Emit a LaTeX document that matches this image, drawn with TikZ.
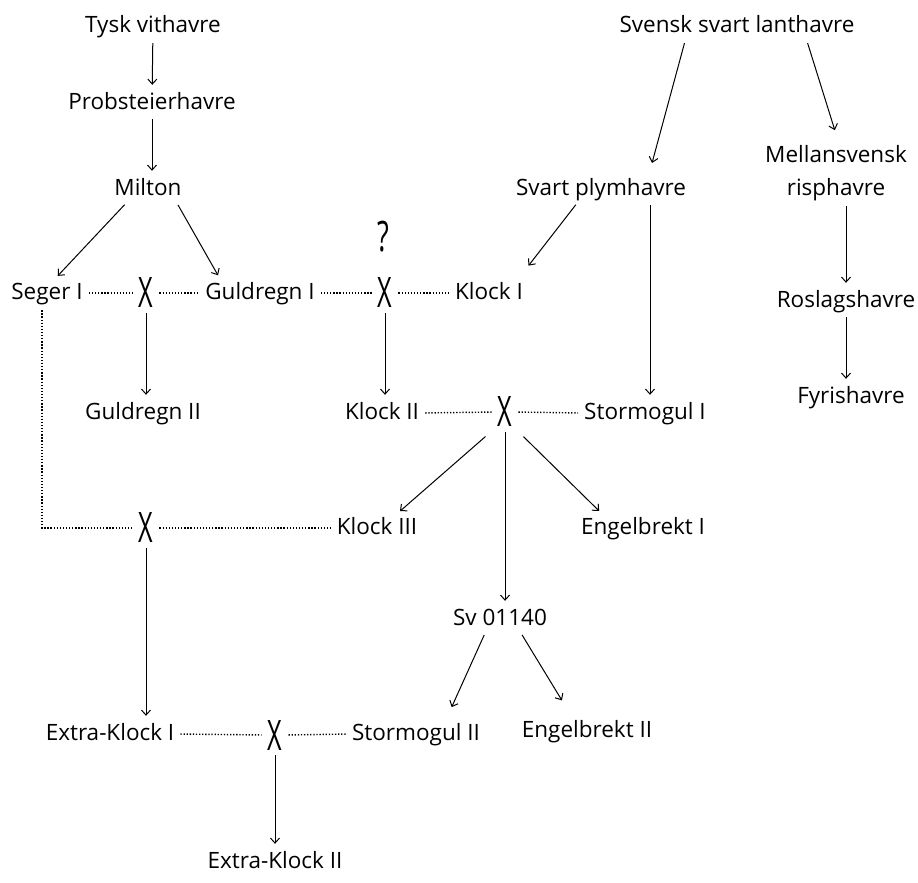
\documentclass[tikz,border=0pt]{standalone}
\usepackage{fontspec}
\usepackage{graphicx}
\setmainfont{Open Sans}
\usetikzlibrary{arrows.meta}
\newcommand{\kors}{\scalebox{0.6}[1]{X}}
\tikzset{
  oatnode/.style={anchor=base, inner sep=3pt, text height=17pt, text depth=5pt, font=\fontsize{22.5}{33}\selectfont},
  crossnode/.style={inner sep=3pt, font=\fontsize{42}{42}\selectfont},
  hered/.style={-{Straight Barb[length=5pt,width=9pt]}, line width=1pt, shorten <=2pt, shorten >=4pt},
  crossline/.style={line width=1.4pt, dash pattern=on 1.3pt off 1.8pt, shorten <=3pt, shorten >=3pt}
}
\begin{document}
\begin{tikzpicture}[x=1pt,y=-1pt]
\useasboundingbox (0,0) rectangle (918,883);
\node[oatnode,name=tysk] at (153,33){Tysk vithavre};
\node[oatnode,name=probst] at (152,109){Probsteierhavre};
\node[oatnode,name=milton] at (148,195){Milton};
\node[oatnode,name=seger] at (47,299){Seger I};
\node[oatnode,name=guld1] at (260,299){Guldregn I};
\node[oatnode,name=klock1] at (489,299){Klock I};
\node[oatnode,name=guld2] at (143,419){Guldregn II};
\node[oatnode,name=klock2] at (382,419){Klock II};
\node[oatnode,name=storm1] at (645,419){Stormogul I};
\node[oatnode,name=klock3] at (377,534){Klock III};
\node[oatnode,name=engel1] at (643,534){Engelbrekt I};
\node[oatnode,name=sv] at (500,625){Sv 01140};
\node[oatnode,name=extra1] at (110,740){Extra-Klock I};
\node[oatnode,name=storm2] at (416,740){Stormogul II};
\node[oatnode,name=engel2] at (587,737){Engelbrekt II};
\node[oatnode,name=extra2] at (275,868){Extra-Klock II};
\node[oatnode,name=svensk] at (737,33){Svensk svart lanthavre};
\node[oatnode,name=svart] at (601,195){Svart plymhavre};
\node[oatnode,name=mellan,anchor=north,align=center,text height=,text depth=] at (836,142){Mellansvensk\\risphavre};
\node[oatnode,name=roslag] at (846,307){Roslagshavre};
\node[oatnode,name=fyris] at (851,403){Fyrishavre};
% korsningar
\node[crossnode,name=x1] at (146,293){\kors};
\node[crossnode,name=x2] at (385,293){\kors};
\node[crossnode,name=x3] at (505,412){\kors};
\node[crossnode,name=x4] at (146,528){\kors};
\node[crossnode,name=x5] at (275,735){\kors};
\node[crossnode,name=q] at (383,237){\scalebox{0.65}[1]{?}};
\draw[hered] (tysk)--(probst);
\draw[hered] (probst)--(probst |- milton.north);
\draw[hered] ([xshift=-22pt]milton.south)--([xshift=8pt]seger.north);
\draw[hered] ([xshift=29pt]milton.south)--([xshift=-40pt]guld1.north);
\draw[hered] ([xshift=-52pt]svensk.south)--([xshift=50pt,yshift=8pt]svart.north);
\draw[hered] ([xshift=70pt]svensk.south)--([yshift=8pt]mellan.north);
\draw[hered] ([xshift=-24pt]svart.south)--([yshift=10pt]klock1.north east);
\draw[hered] ([xshift=5pt]storm1.north |- svart.south)--([xshift=5pt]storm1.north);
\draw[hered] (roslag.north |- mellan.south)--(roslag);
\draw[hered] (roslag)--(roslag |- fyris.north);
\draw[hered] (x1)--(x1 |- guld2.north);
\draw[hered] (x2)--(x2 |- klock2.north);
\draw[hered] ([xshift=-18pt,yshift=-5pt]x3.south)--([xshift=20pt]klock3.north);
\draw[hered] (x3)--(x3 |- sv.north);
\draw[hered] ([xshift=17pt,yshift=-5pt]x3.south)--([xshift=-41pt]engel1.north);
\draw[hered] ([xshift=-15pt]sv.south)--([xshift=34pt,yshift=9pt]storm2.north);
\draw[hered] ([xshift=21pt]sv.south)--([xshift=-23pt,yshift=13pt]engel2.north);
\draw[hered] (x4)--(x4 |- extra1.north);
\draw[hered] (x5)--(x5 |- extra2.north);
% prickade linjer
\draw[crossline] (seger.east)--(x1.west);
\draw[crossline] (x1.east)--(guld1.west);
\draw[crossline] (guld1.east)--(x2.west);
\draw[crossline] (x2.east)--(klock1.west);
\draw[crossline] (klock2.east)--(x3.west);
\draw[crossline] (x3.east)--(storm1.west);
\draw[crossline] ([xshift=-5pt]seger.south) |- (x4.west);
\draw[crossline] (x4.east)--(klock3.west);
\draw[crossline] (extra1.east)--(x5.west);
\draw[crossline] (x5.east)--(storm2.west);
\end{tikzpicture}
\end{document}
